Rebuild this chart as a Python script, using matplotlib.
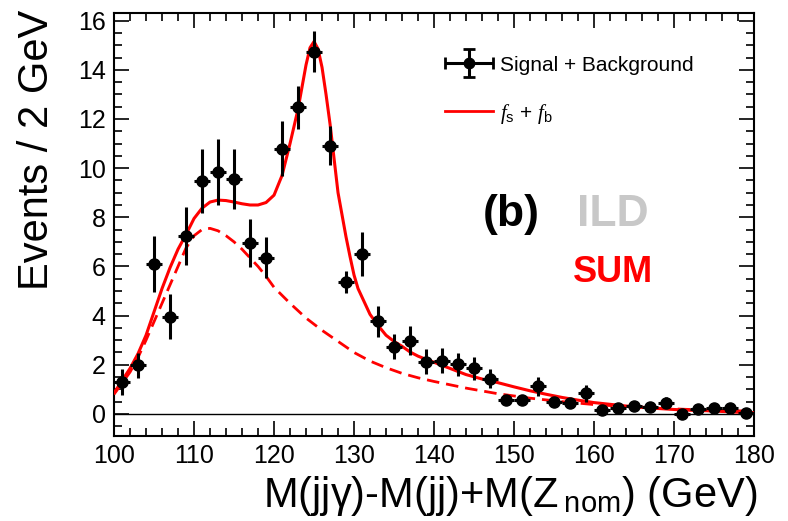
import numpy as np
import matplotlib
matplotlib.use('Agg')
import matplotlib.pyplot as plt
from matplotlib.lines import Line2D
from matplotlib.legend_handler import HandlerErrorbar
from matplotlib.ticker import MultipleLocator

plt.rcParams['font.family'] = ['Liberation Sans', 'DejaVu Sans']
plt.rcParams['mathtext.fontset'] = 'custom'
plt.rcParams['mathtext.rm'] = 'Liberation Sans'
plt.rcParams['mathtext.it'] = 'Liberation Serif:italic'

# binned data, 2 GeV bins
mass = [101, 103, 105, 107, 109, 111, 113, 115, 117, 119,
        121, 123, 125, 127, 129, 131, 133, 135, 137, 139,
        141, 143, 145, 147, 149, 151, 153, 155, 157, 159,
        161, 163, 165, 167, 169, 171, 173, 175, 177, 179]
events = [1.29, 1.97, 6.09, 3.96, 7.24, 9.48, 9.83, 9.55, 6.97, 6.36,
          10.78, 12.48, 14.74, 10.92, 5.36, 6.50, 3.76, 2.74, 2.98, 2.13,
          2.16, 2.02, 1.86, 1.44, 0.56, 0.57, 1.13, 0.50, 0.44, 0.84,
          0.16, 0.26, 0.33, 0.30, 0.46, 0.00, 0.19, 0.26, 0.26, 0.02]
errors = [0.52, 0.52, 1.13, 0.90, 1.17, 1.31, 1.34, 1.23, 0.98, 0.85,
          1.12, 0.88, 0.83, 0.78, 0.44, 0.90, 0.63, 0.52, 0.59, 0.51,
          0.51, 0.46, 0.47, 0.39, 0.12, 0.12, 0.39, 0.12, 0.12, 0.34,
          0.10, 0.10, 0.12, 0.12, 0.24, 0.05, 0.10, 0.10, 0.10, 0.05]

# fit curves
total_x = [100, 101, 102, 103, 104, 105, 106, 107, 108, 109,
           110, 111, 112, 113, 114, 115, 116, 117, 118, 119,
           120, 121, 122, 123, 123.5, 124, 124.5, 125, 125.5, 126,
           126.5, 127, 127.5, 128, 128.5, 129, 129.5, 130, 130.5, 131,
           132, 133, 134, 135, 136, 137, 138, 139, 140, 142,
           144, 146, 148, 150, 152, 154, 156, 158, 160, 162,
           164, 166, 168, 170, 172, 174, 176, 178, 180]
total_y = [0.85, 1.35, 1.85, 2.45, 3.2, 4.15, 5.1, 5.95, 6.7, 7.3,
           7.95, 8.37, 8.62, 8.7, 8.68, 8.62, 8.55, 8.5, 8.5, 8.6,
           8.9, 9.7, 11.0, 12.4, 13.3, 14.2, 14.9, 15.15, 14.85, 14.1,
           13.0, 11.8, 10.4, 9.0, 8.1, 7.2, 6.4, 5.65, 5.1, 4.75,
           4.05, 3.6, 3.2, 2.95, 2.75, 2.52, 2.35, 2.22, 2.1, 1.85,
           1.6, 1.42, 1.27, 1.1, 0.94, 0.8, 0.67, 0.56, 0.46, 0.39,
           0.32, 0.27, 0.22, 0.18, 0.15, 0.13, 0.1, 0.07, 0.05]

bkg_x = [100, 101, 102, 103, 104, 105, 106, 107, 108, 109,
         110, 111, 112, 113, 114, 115, 116, 117, 118, 119,
         120, 122, 124, 126, 128, 130, 132, 134, 136, 138,
         140, 144, 148, 152, 156, 160, 164, 168, 172, 176, 180]
bkg_y = [0.8, 1.25, 1.7, 2.3, 3.0, 3.75, 4.5, 5.25, 6.0, 6.75,
         7.25, 7.5, 7.55, 7.45, 7.25, 7.0, 6.7, 6.35, 6.0, 5.6,
         5.15, 4.5, 3.9, 3.4, 2.95, 2.5, 2.15, 1.88, 1.65, 1.47,
         1.32, 1.05, 0.82, 0.64, 0.5, 0.38, 0.3, 0.23, 0.18, 0.14, 0.11]

fig = plt.figure(figsize=(7.88, 5.21), dpi=100)
ax = fig.add_axes([0.1447, 0.1631, 0.8122, 0.8114])

ax.axhline(0, color='black', lw=1.0, zorder=1)
ax.plot(bkg_x, bkg_y, color='#ff0000', lw=2.0, ls=(0, (4.5, 2.5)), zorder=2)
ax.plot(total_x, total_y, color='#ff0000', lw=2.2, zorder=3)
ax.errorbar(mass, events, xerr=1, yerr=errors, fmt='o', color='black',
            ms=8, elinewidth=2.2, capsize=0, zorder=4)

# legend handles
h_data = ax.errorbar([np.nan], [np.nan], xerr=1, yerr=1, fmt='o', color='black',
                     ms=7.5, elinewidth=2.2, capsize=4, capthick=2)
h_fit = Line2D([], [], color='#ff0000', lw=2.0)
ax.legend([h_data, h_fit], ['Signal + Background', r'$f_{\mathrm{s}}$ + $f_{\mathrm{b}}$'],
          loc='upper left', bbox_to_anchor=(0.517, 0.90), frameon=False,
          fontsize=15, handlelength=2.31, handletextpad=0.34, labelspacing=1.3,
          borderpad=0, borderaxespad=0,
          handler_map={type(h_data): HandlerErrorbar(xerr_size=1.15, yerr_size=0.67)})

ax.text(146.1, 8.1, '(b)', fontsize=32, fontweight='bold', color='black',
        ha='left', va='center')
ax.text(157.9, 8.1, 'ILD', fontsize=32, fontweight='bold', color='#c8c8c8',
        ha='left', va='center')
ax.text(157.4, 5.74, 'SUM', fontsize=26, fontweight='bold', color='#ff0000',
        ha='left', va='center')

ax.set_xlim(100, 180)
ax.set_ylim(-0.9, 16.3)
ax.xaxis.set_major_locator(MultipleLocator(10))
ax.xaxis.set_minor_locator(MultipleLocator(2))
ax.yaxis.set_major_locator(MultipleLocator(2))
ax.yaxis.set_minor_locator(MultipleLocator(0.5))
ax.tick_params(which='both', direction='in', top=True, right=True,
               labelsize=18, width=1.2)
ax.tick_params(which='major', length=11, pad=6)
ax.tick_params(which='minor', length=5.5)
for s in ax.spines.values():
    s.set_linewidth(1.5)

fig.text(36.7 / 788, 1 - 10 / 521, 'Events / 2 GeV', rotation=90,
         fontsize=30, ha='center', va='top')
fig.text(757 / 788, 1 - 507 / 521, r'M(jjγ)-M(jj)+M(Z$_{\;\mathrm{nom}}$) (GeV)',
         fontsize=30, ha='right', va='baseline')

fig.savefig('out.png', dpi=100)
